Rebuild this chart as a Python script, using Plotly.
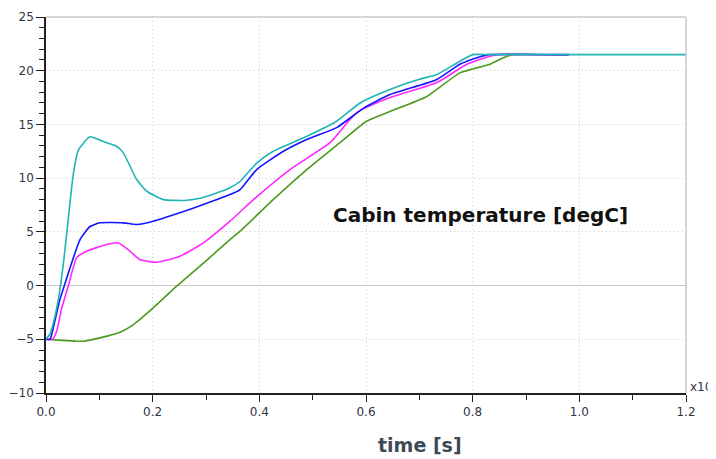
import plotly.graph_objects as go

# cabin temperature traces (time in units of 1e4 s, temperature in degC)
t_cyan = [0, 0.0075, 0.0137, 0.023, 0.0325, 0.042, 0.051, 0.0606, 0.0825, 0.1075, 0.1325, 0.145,
          0.17, 0.189, 0.22, 0.264, 0.301, 0.345, 0.364, 0.395, 0.426, 0.489, 0.545,
          0.589, 0.645, 0.70, 0.733, 0.77, 0.80, 0.83, 1.0, 1.2]
T_cyan = [-5, -4.5, -3.5, -1.3, 2.0, 6.3, 10.3, 12.6, 13.85, 13.4, 12.97, 12.35,
          9.87, 8.78, 8.0, 7.94, 8.3, 9.1, 9.71, 11.4, 12.5, 13.9, 15.3,
          17.0, 18.25, 19.2, 19.65, 20.7, 21.5, 21.5, 21.5, 21.5]

t_blue = [0, 0.0075, 0.017, 0.026, 0.036, 0.048, 0.064, 0.0825, 0.101, 0.145, 0.17, 0.201,
          0.251, 0.295, 0.345, 0.364, 0.395, 0.445, 0.489, 0.545, 0.595, 0.645,
          0.733, 0.776, 0.814, 0.83, 0.98]
T_blue = [-5, -5, -3.2, -1.3, 0.25, 2.1, 4.3, 5.5, 5.84, 5.84, 5.68, 5.99,
          6.77, 7.54, 8.47, 8.94, 10.8, 12.5, 13.6, 14.7, 16.5, 17.78,
          19.18, 20.6, 21.3, 21.5, 21.5]

t_magenta = [0, 0.012, 0.02, 0.029, 0.042, 0.0575, 0.076, 0.114, 0.136, 0.1575, 0.176,
             0.2075, 0.251, 0.295, 0.345, 0.389, 0.4575, 0.5325, 0.5825, 0.645,
             0.733, 0.789, 0.8325, 0.85, 0.98]
T_magenta = [-5, -5, -4.25, -2.2, 0.0, 2.6, 3.2, 3.82, 3.97, 3.2, 2.42,
             2.17, 2.73, 3.97, 5.99, 8.0, 10.8, 13.3, 16.1, 17.5,
             18.9, 20.6, 21.35, 21.5, 21.45]

t_green = [0, 0.03, 0.0575, 0.07, 0.101, 0.139, 0.164, 0.201, 0.245, 0.3, 0.345,
           0.364, 0.426, 0.489, 0.551, 0.601, 0.645, 0.714, 0.776, 0.8325, 0.864,
           0.88, 0.98]
T_green = [-5, -5.1, -5.18, -5.18, -4.87, -4.34, -3.63, -2.08, -0.06, 2.3, 4.28,
           5.06, 8.0, 10.8, 13.3, 15.3, 16.2, 17.6, 19.8, 20.6, 21.35,
           21.5, 21.45]

series = [
    (t_green, T_green, '#4E9A1E'),
    (t_magenta, T_magenta, '#FF28FF'),
    (t_blue, T_blue, '#1414FF'),
    (t_cyan, T_cyan, '#20B4B4'),
]

fig = go.Figure()
for t, T, col in series:
    fig.add_trace(go.Scatter(x=t, y=T, mode='lines',
                             line=dict(color=col, width=1.6, shape='spline', smoothing=0.5),
                             showlegend=False))

tick_font = dict(family='DejaVu Sans', size=12, color='#333344')
grid_dash = '1px,3px'

fig.update_layout(
    width=716, height=459,
    margin=dict(l=38, r=38, t=9, b=74),
    paper_bgcolor='white', plot_bgcolor='white',
    xaxis=dict(range=[0, 1.2], dtick=0.2, tickformat='.1f', automargin=False,
               showline=True, linecolor='#222222', linewidth=1.5,
               ticks='outside', ticklen=7, tickcolor='#222222',
               showgrid=True, gridcolor='#c8c8c8', griddash=grid_dash, gridwidth=1,
               zeroline=False, tickfont=tick_font,
               minor=dict(dtick=0.1, ticks='outside', ticklen=5, tickcolor='#222222',
                          showgrid=False)),
    yaxis=dict(range=[-10, 25], dtick=5, automargin=False,
               showline=True, linecolor='#222222', linewidth=1.5,
               ticks='outside', ticklen=8, tickcolor='#222222',
               showgrid=True, gridcolor='#c8c8c8', griddash=grid_dash, gridwidth=1,
               zeroline=True, zerolinecolor='#c8c8c8', zerolinewidth=1.2,
               tickfont=tick_font,
               minor=dict(dtick=1, ticks='outside', ticklen=5, tickcolor='#222222',
                          showgrid=False)),
)

# light frame on top and right
fig.add_shape(type='line', xref='paper', yref='paper', x0=0, x1=1, y0=1, y1=1,
              line=dict(color='#c8c8c8', width=1.5))
fig.add_shape(type='line', xref='paper', yref='paper', x0=1, x1=1, y0=0, y1=1,
              line=dict(color='#c8c8c8', width=1.5))

fig.add_annotation(x=0.814, y=6.6, text='<b>Cabin temperature [degC]</b>',
                   showarrow=False, xanchor='center', yanchor='middle',
                   font=dict(family='DejaVu Sans', size=20, color='#111111'))
fig.add_annotation(x=(420 - 46) / 640, y=-52 / 376, xref='paper', yref='paper',
                   text='<b>time [s]</b>', showarrow=False,
                   xanchor='center', yanchor='middle',
                   font=dict(family='DejaVu Sans', size=19, color='#3d4a57'))
fig.add_annotation(x=1, y=0, xref='paper', yref='paper', text='x10',
                   showarrow=False, xanchor='left', yanchor='middle', xshift=2, yshift=6,
                   font=dict(family='DejaVu Sans', size=12, color='#333344'))

fig.write_html("out.html")
